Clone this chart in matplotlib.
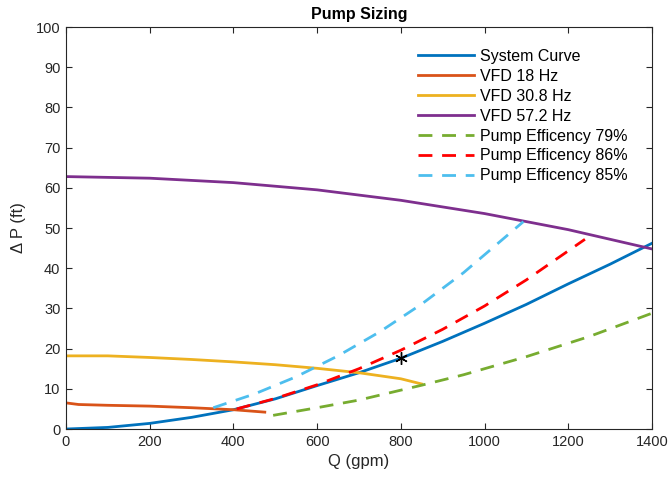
import matplotlib
matplotlib.use("Agg")
import matplotlib.pyplot as plt

plt.rcParams['font.family'] = ['Liberation Sans', 'DejaVu Sans']

# System curve
q_sys = [0, 100, 200, 300, 400, 500, 600, 700, 800, 900, 1000, 1100, 1200, 1300, 1400]
dp_sys = [0, 0.4, 1.4, 2.9, 4.8, 7.5, 10.8, 14.0, 17.6, 21.8, 26.3, 31.0, 36.1, 41.0, 46.2]

# VFD curves
q_18 = [0, 30, 100, 200, 300, 400, 475]
dp_18 = [6.5, 6.1, 5.9, 5.7, 5.3, 4.8, 4.2]
q_308 = [0, 100, 200, 300, 400, 500, 600, 700, 800, 850]
dp_308 = [18.2, 18.2, 17.8, 17.3, 16.7, 16.0, 15.1, 14.0, 12.5, 11.2]
q_572 = [0, 200, 400, 600, 800, 1000, 1200, 1400]
dp_572 = [62.8, 62.4, 61.3, 59.5, 56.9, 53.6, 49.6, 44.8]

# Pump efficiency curves
q_e79 = [495, 600, 700, 850, 950, 1100, 1250, 1400]
dp_e79 = [3.4, 5.3, 7.2, 10.9, 13.5, 18.0, 23.0, 28.8]
q_e86 = [408, 500, 600, 700, 800, 900, 1000, 1100, 1240]
dp_e86 = [5.0, 7.6, 11.0, 15.0, 19.6, 24.8, 30.6, 37.1, 47.2]
q_e85 = [352, 450, 550, 650, 750, 850, 950, 1093]
dp_e85 = [5.3, 8.7, 13.0, 18.2, 24.2, 31.1, 38.9, 51.6]

# Operating point
q_op = [800]
dp_op = [17.6]

labels = ['System Curve', 'VFD 18 Hz', 'VFD 30.8 Hz', 'VFD 57.2 Hz',
          'Pump Efficency 79%', 'Pump Efficency 86%', 'Pump Efficency 85%']

fig = plt.figure(figsize=(6.7, 4.84), dpi=100)
ax = fig.add_axes([0.0985, 0.1136, 0.8745, 0.8305])

lw = 2.0
dash = (0, (5.0, 3.5))
ax.plot(q_sys, dp_sys, color='#0072BD', lw=lw, label=labels[0])
ax.plot(q_18, dp_18, color='#D95319', lw=lw, label=labels[1])
ax.plot(q_308, dp_308, color='#EDB120', lw=lw, label=labels[2])
ax.plot(q_572, dp_572, color='#7E2F8E', lw=lw, label=labels[3])
ax.plot(q_e79, dp_e79, color='#77AC30', lw=lw, ls=dash, label=labels[4])
ax.plot(q_e86, dp_e86, color='#FF0000', lw=lw, ls=dash, label=labels[5])
ax.plot(q_e85, dp_e85, color='#4DBEEE', lw=lw, ls=dash, label=labels[6])
ax.plot(q_op, dp_op, ls='none', marker=(6, 2, 0), color='black', ms=9, mew=1.0)

ax.set_xlim(0, 1400)
ax.set_ylim(0, 100)
ax.set_xticks(range(0, 1401, 200))
ax.set_yticks(range(0, 101, 10))
ax.tick_params(direction='in', top=True, right=True, length=4, width=0.8,
               labelsize=10.5, colors='#262626', pad=4)
for s in ax.spines.values():
    s.set_color('#262626')
    s.set_linewidth(0.8)

ax.set_title('Pump Sizing', fontsize=11.5, fontweight='bold', pad=6)
ax.set_xlabel('Q (gpm)', fontsize=12, color='#262626', labelpad=4)
ax.set_ylabel('Δ P (ft)', fontsize=12, color='#262626', labelpad=7)

leg = ax.legend(loc='upper right', bbox_to_anchor=(0.975, 0.97), frameon=False,
                fontsize=11.5, handlelength=3.5, handletextpad=0.38,
                labelspacing=0.31, borderaxespad=0.2)

fig.savefig('out.png', dpi=100)
